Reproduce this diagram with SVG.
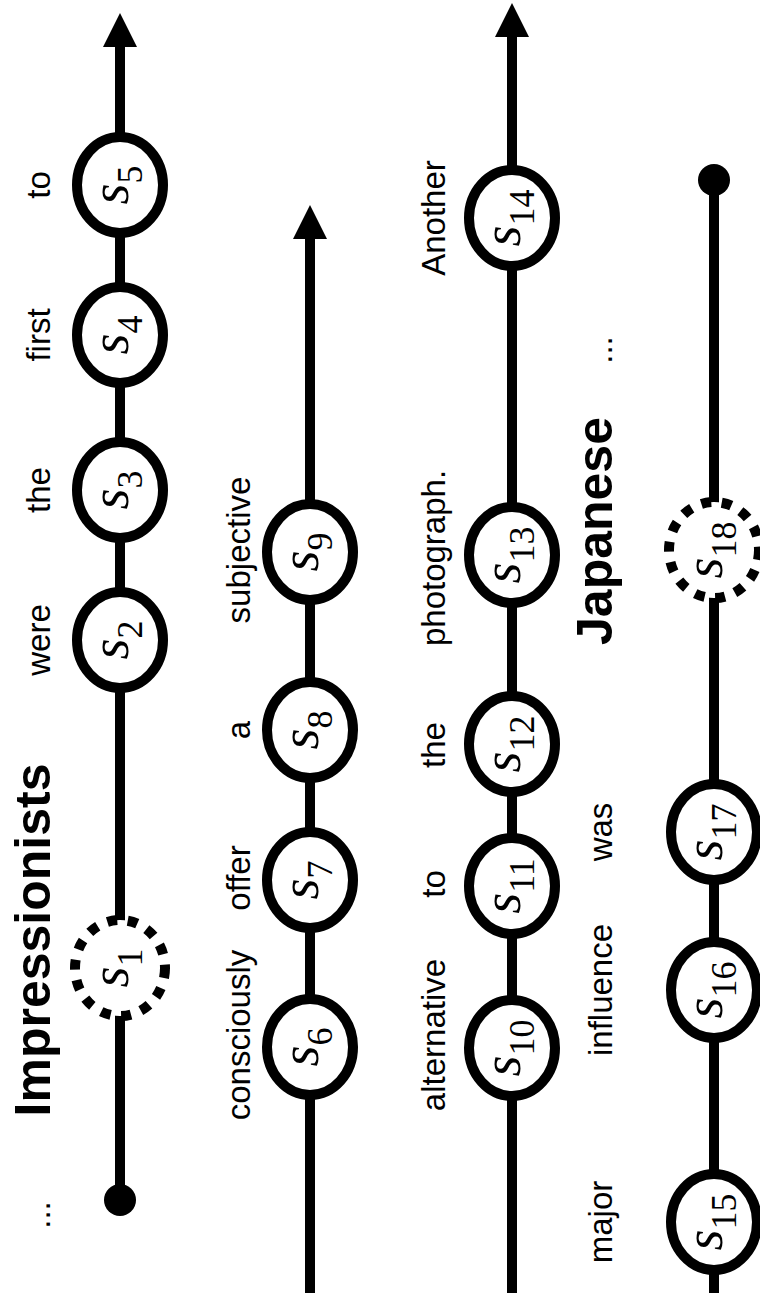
<svg xmlns="http://www.w3.org/2000/svg" width="760" height="1293" viewBox="0 0 760 1293">
<defs>
<marker id="arrow" markerUnits="userSpaceOnUse" markerWidth="34" markerHeight="34" viewBox="0 0 34 34" refX="2" refY="17" orient="auto"><path d="M0,0 L34,17 L0,34 z" fill="#000"/></marker>
</defs>
<style>
.edge{stroke:#000;stroke-width:10;fill:none}
.node{fill:#fff;stroke:#000;stroke-width:10}
.dashed{fill:#fff;stroke:#000;stroke-width:10;stroke-dasharray:10 10.6}
.dot{fill:#000}
.sym{font-family:'Liberation Serif','Times New Roman','DejaVu Serif',serif;font-size:54px;font-style:italic;text-anchor:middle;fill:#000}
.sub{font-family:'Liberation Serif','Times New Roman','DejaVu Serif',serif;font-style:normal;font-size:36px}
.lbl{font-family:'Liberation Sans',Arial,sans-serif;font-size:33px;text-anchor:middle;fill:#000}
.big{font-family:'Liberation Sans',Arial,sans-serif;font-size:50px;font-weight:bold;text-anchor:middle;fill:#000}
</style>
<rect width="760" height="1293" fill="#fff"/>
<g id="connectors">
<line class="edge" x1="120" y1="1200" x2="120" y2="45" marker-end="url(#arrow)"/>
<line class="edge" x1="310" y1="1293" x2="310" y2="237" marker-end="url(#arrow)"/>
<line class="edge" x1="512" y1="1293" x2="512" y2="35" marker-end="url(#arrow)"/>
<line class="edge" x1="714" y1="1293" x2="714" y2="180"/>
<circle class="dot" cx="120" cy="1200" r="16"/>
<circle class="dot" cx="714" cy="180" r="16"/>
</g>
<g id="labels">
<text class="lbl" transform="translate(50,1215) rotate(-90)">...</text>
<text class="big" transform="translate(50,940) rotate(-90)">Impressionists</text>
<text class="lbl" transform="translate(50,640) rotate(-90)">were</text>
<text class="lbl" transform="translate(50,490) rotate(-90)">the</text>
<text class="lbl" transform="translate(50,335) rotate(-90)">first</text>
<text class="lbl" transform="translate(50,185) rotate(-90)">to</text>
<text class="lbl" transform="translate(250,1035) rotate(-90)">consciously</text>
<text class="lbl" transform="translate(250,878) rotate(-90)">offer</text>
<text class="lbl" transform="translate(250,730) rotate(-90)">a</text>
<text class="lbl" transform="translate(250,550) rotate(-90)">subjective</text>
<text class="lbl" transform="translate(445,1035) rotate(-90)">alternative</text>
<text class="lbl" transform="translate(445,884) rotate(-90)">to</text>
<text class="lbl" transform="translate(445,745) rotate(-90)">the</text>
<text class="lbl" transform="translate(445,558) rotate(-90)">photograph.</text>
<text class="lbl" transform="translate(445,218) rotate(-90)">Another</text>
<text class="lbl" transform="translate(612,1222) rotate(-90)">major</text>
<text class="lbl" transform="translate(612,990) rotate(-90)">influence</text>
<text class="lbl" transform="translate(612,832) rotate(-90)">was</text>
<text class="big" transform="translate(612,531) rotate(-90)">Japanese</text>
<text class="lbl" transform="translate(612,350) rotate(-90)">...</text>
</g>
<g id="s1"><ellipse class="dashed" cx="120" cy="968" rx="45" ry="48"/><text class="sym" transform="translate(120,968) rotate(-90)" y="8">s<tspan class="sub" dy="14">1</tspan></text></g>
<g id="s2"><ellipse class="node" cx="120" cy="640" rx="43" ry="48"/><text class="sym" transform="translate(120,640) rotate(-90)" y="8">s<tspan class="sub" dy="14">2</tspan></text></g>
<g id="s3"><ellipse class="node" cx="120" cy="490" rx="43" ry="48"/><text class="sym" transform="translate(120,490) rotate(-90)" y="8">s<tspan class="sub" dy="14">3</tspan></text></g>
<g id="s4"><ellipse class="node" cx="120" cy="335" rx="43" ry="48"/><text class="sym" transform="translate(120,335) rotate(-90)" y="8">s<tspan class="sub" dy="14">4</tspan></text></g>
<g id="s5"><ellipse class="node" cx="120" cy="185" rx="43" ry="48"/><text class="sym" transform="translate(120,185) rotate(-90)" y="8">s<tspan class="sub" dy="14">5</tspan></text></g>
<g id="s6"><ellipse class="node" cx="310" cy="1047" rx="43" ry="48"/><text class="sym" transform="translate(310,1047) rotate(-90)" y="8">s<tspan class="sub" dy="14">6</tspan></text></g>
<g id="s7"><ellipse class="node" cx="310" cy="880" rx="43" ry="48"/><text class="sym" transform="translate(310,880) rotate(-90)" y="8">s<tspan class="sub" dy="14">7</tspan></text></g>
<g id="s8"><ellipse class="node" cx="310" cy="730" rx="43" ry="48"/><text class="sym" transform="translate(310,730) rotate(-90)" y="8">s<tspan class="sub" dy="14">8</tspan></text></g>
<g id="s9"><ellipse class="node" cx="310" cy="552" rx="43" ry="48"/><text class="sym" transform="translate(310,552) rotate(-90)" y="8">s<tspan class="sub" dy="14">9</tspan></text></g>
<g id="s10"><ellipse class="node" cx="512" cy="1048" rx="43" ry="48"/><text class="sym" transform="translate(512,1048) rotate(-90)" y="8">s<tspan class="sub" dy="14">10</tspan></text></g>
<g id="s11"><ellipse class="node" cx="512" cy="886" rx="43" ry="48"/><text class="sym" transform="translate(512,886) rotate(-90)" y="8">s<tspan class="sub" dy="14">11</tspan></text></g>
<g id="s12"><ellipse class="node" cx="512" cy="744" rx="43" ry="48"/><text class="sym" transform="translate(512,744) rotate(-90)" y="8">s<tspan class="sub" dy="14">12</tspan></text></g>
<g id="s13"><ellipse class="node" cx="512" cy="555" rx="43" ry="48"/><text class="sym" transform="translate(512,555) rotate(-90)" y="8">s<tspan class="sub" dy="14">13</tspan></text></g>
<g id="s14"><ellipse class="node" cx="512" cy="218" rx="43" ry="48"/><text class="sym" transform="translate(512,218) rotate(-90)" y="8">s<tspan class="sub" dy="14">14</tspan></text></g>
<g id="s15"><ellipse class="node" cx="714" cy="1222" rx="43" ry="48"/><text class="sym" transform="translate(714,1222) rotate(-90)" y="8">s<tspan class="sub" dy="14">15</tspan></text></g>
<g id="s16"><ellipse class="node" cx="714" cy="990" rx="43" ry="48"/><text class="sym" transform="translate(714,990) rotate(-90)" y="8">s<tspan class="sub" dy="14">16</tspan></text></g>
<g id="s17"><ellipse class="node" cx="714" cy="832" rx="43" ry="48"/><text class="sym" transform="translate(714,832) rotate(-90)" y="8">s<tspan class="sub" dy="14">17</tspan></text></g>
<g id="s18"><ellipse class="dashed" cx="714" cy="550" rx="45" ry="48"/><text class="sym" transform="translate(714,550) rotate(-90)" y="8">s<tspan class="sub" dy="14">18</tspan></text></g>
</svg>
